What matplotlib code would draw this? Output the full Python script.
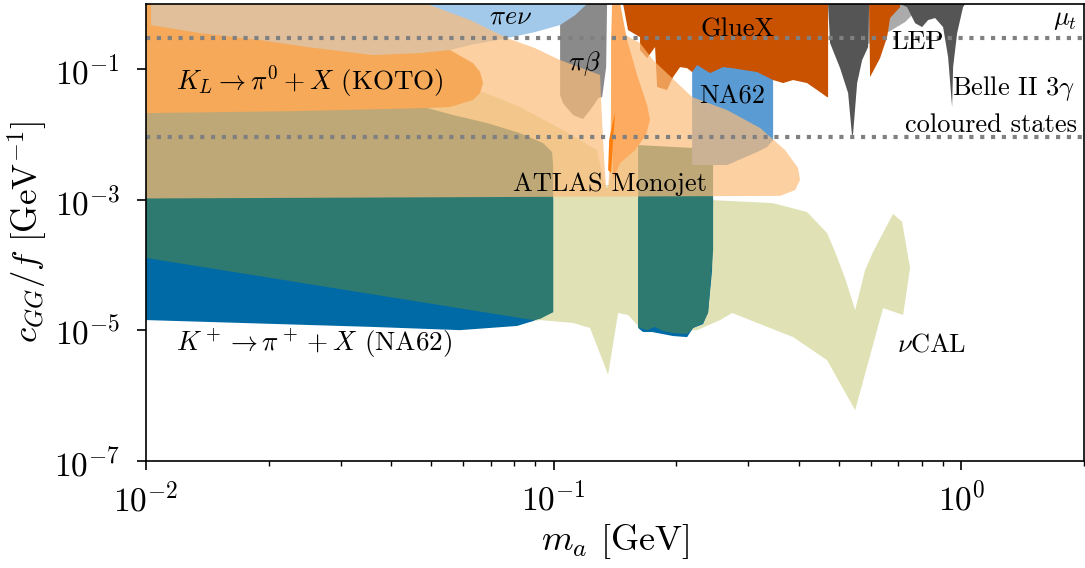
import matplotlib
matplotlib.use("Agg")
import matplotlib.pyplot as plt
from matplotlib.ticker import LogLocator, NullLocator, FixedLocator, LogFormatterSciNotation

plt.rcParams['font.family'] = 'cmr10'
plt.rcParams['mathtext.fontset'] = 'cm'
plt.rcParams['axes.formatter.use_mathtext'] = True
plt.rcParams['font.size'] = 19

# exclusion regions in the (m_a [GeV], c_GG/f [GeV^-1]) plane
nucal_m = [0.0100, 0.0497, 0.0671, 0.0827, 0.1054, 0.1278, 0.1315, 0.1337, 0.1368, 0.1391,
           0.1456, 0.1629, 0.2286, 0.2461, 0.3454, 0.4183, 0.4685, 0.4902, 0.5187, 0.5490,
           0.5808, 0.6075, 0.6802, 0.7158, 0.7486, 0.7199, 0.6428, 0.5490, 0.4685, 0.3867,
           0.2740, 0.2560, 0.2248, 0.1824, 0.1629, 0.1522, 0.1439, 0.1360, 0.1228, 0.1116,
           0.0926, 0.0804]
nucal_g = [0.0481, 0.0481, 0.0448, 0.0264, 0.0117, 0.00579, 0.00240, 0.00169, 0.00169, 0.00407,
           0.00579, 0.00621, 0.00286, 9.9e-4, 8.9e-4, 6.5e-4, 3.1e-4, 1.59e-4, 6.3e-5, 2.05e-5,
           8.4e-5, 1.59e-4, 6.1e-4, 4.6e-4, 9.0e-5, 1.72e-5, 2.2e-5, 6.0e-7, 3.5e-6, 7.9e-6,
           1.85e-5, 1.44e-5, 1.01e-5, 9.1e-6, 1.09e-5, 1.72e-5, 1.85e-5, 2.1e-6, 1.09e-5, 1.30e-5,
           1.44e-5, 1.25e-5]

kp_left_m = [0.0100, 0.0997, 0.0997, 0.0890, 0.0813, 0.0589, 0.0361, 0.0100]
kp_left_g = [1.03e-3, 1.03e-3, 1.91e-5, 1.39e-5, 1.17e-5, 1.01e-5, 1.13e-5, 1.44e-5]
kp_right_m = [0.1611, 0.2461, 0.2447, 0.2392, 0.2325, 0.2198, 0.2125, 0.1963, 0.1743, 0.1657, 0.1611]
kp_right_g = [1.03e-3, 1.03e-3, 8.4e-5, 1.91e-5, 1.25e-5, 1.09e-5, 7.9e-6, 8.2e-6, 9.45e-6, 9.45e-6, 1.09e-5]

teal_left_m = [0.0100, 0.0489, 0.0489, 0.0567, 0.0687, 0.0827, 0.0942, 0.0991, 0.0997, 0.0997,
               0.0926, 0.0890, 0.0100]
teal_left_g = [0.0338, 0.0338, 0.0255, 0.0199, 0.0150, 0.0105, 0.00741, 0.00540, 0.00341, 1.91e-5,
               1.50e-5, 1.44e-5, 1.29e-4]
teal_right_m = [0.1611, 0.2461, 0.2461, 0.2392, 0.2325, 0.2198, 0.2125, 0.1963, 0.1855, 0.1773,
                0.1695, 0.1629, 0.1611]
teal_right_g = [0.0069, 0.0060, 1.7e-4, 1.85e-5, 1.30e-5, 1.09e-5, 8.8e-6, 9.1e-6, 9.8e-6, 1.13e-5,
                1.01e-5, 1.09e-5, 1.09e-5]

koto_m = [0.0100, 0.0375, 0.0470, 0.0557, 0.0634, 0.0660, 0.0671, 0.0660, 0.0634, 0.0557,
          0.0489, 0.0238, 0.0100]
koto_g = [1.0, 1.0, 0.398, 0.197, 0.124, 0.0907, 0.0615, 0.0432, 0.0338, 0.0264,
          0.0255, 0.0229, 0.0213]

pie_m = [0.01029, 0.01029, 0.01357, 0.01904, 0.02483, 0.03605, 0.0470, 0.0557, 0.0624, 0.0769,
         0.0900, 0.1037, 0.1129, 0.1207]
pie_g = [1.0, 0.475, 0.358, 0.280, 0.219, 0.165, 0.177, 0.197, 0.235, 0.300,
         0.371, 0.475, 0.676, 1.0]

pib_m = [0.1037, 0.1352, 0.1345, 0.1315, 0.1285, 0.1264, 0.1228, 0.1180, 0.1116, 0.1054, 0.1037]
pib_g = [1.0, 1.0, 0.108, 0.0375, 0.0362, 0.0303, 0.0237, 0.0173, 0.0199, 0.0303, 0.0403]

na62_m = [0.2186, 0.3454, 0.3454, 0.3339, 0.3155, 0.2663, 0.2186]
na62_g = [0.197, 0.197, 0.00824, 0.00643, 0.00540, 0.00341, 0.00341]

gluex1_m = [0.1480, 0.4712, 0.4712, 0.4685, 0.4428, 0.4183, 0.3867, 0.3654, 0.3454, 0.3339,
            0.3155, 0.2740, 0.2603, 0.2420, 0.2248, 0.2186, 0.2125, 0.2042, 0.1963, 0.1897,
            0.1794, 0.1773, 0.1695, 0.1629, 0.1629, 0.1522]
gluex1_g = [1.0, 1.0, 0.0375, 0.0375, 0.0481, 0.0615, 0.0684, 0.0615, 0.0684, 0.0760,
            0.0906, 0.104, 0.108, 0.0875, 0.116, 0.0906, 0.104, 0.108, 0.0760, 0.0481,
            0.0534, 0.219, 0.148, 0.197, 0.311, 0.398]
gluex2_m = [0.5940, 0.5973, 0.6320, 0.6575, 0.6687, 0.7078, 0.7078]
gluex2_g = [1.0, 0.0760, 0.148, 0.311, 0.609, 0.896, 1.0]

lep_m = [0.5500, 0.5500, 0.5742, 0.7280, 0.7701, 0.7830]
lep_g = [1.0, 0.20, 0.219, 0.528, 0.751, 1.0]

belle1_m = [0.4712, 0.4765, 0.5042, 0.5276, 0.5397, 0.5428, 0.5552, 0.5710, 0.5907, 0.5940]
belle1_g = [1.0, 0.252, 0.104, 0.0432, 0.00916, 0.0105, 0.0615, 0.138, 0.219, 1.0]
belle2_m = [0.7078, 0.7362, 0.7701, 0.8013, 0.8291, 0.8624, 0.9022, 0.9281, 0.9493, 0.9548,
            0.9766, 1.010, 1.022]
belle2_g = [1.0, 0.896, 0.509, 0.443, 0.567, 0.609, 0.443, 0.154, 0.0264, 0.108,
            0.358, 0.896, 1.0]

atlas_m = [0.0100, 0.0489, 0.0624, 0.0769, 0.0900, 0.1037, 0.1300, 0.1307, 0.1330, 0.1345,
           0.1360, 0.1375, 0.1383, 0.1399, 0.1497, 0.1629, 0.1754, 0.2186, 0.2663, 0.3209,
           0.3696, 0.3977, 0.4022, 0.3910, 0.3592, 0.0100]
atlas_g = [1.0, 1.0, 0.567, 0.300, 0.211, 0.138, 0.0815, 0.0338, 0.00407, 0.00152,
           0.00152, 0.00407, 0.0338, 0.235, 0.334, 0.252, 0.138, 0.0375, 0.0237, 0.0126,
           0.00579, 0.00307, 0.00201, 0.00141, 0.00115, 0.00105]

pi0_m = [0.1391, 0.1456, 0.1514, 0.1602, 0.1695, 0.1723, 0.1684, 0.1584, 0.1456, 0.1399,
         0.1383, 0.1383]
pi0_g = [1.0, 1.0, 0.280, 0.0815, 0.0283, 0.0167, 0.00982, 0.00579, 0.00367, 0.00201,
         0.0167, 0.280]
pi0_core_m = [0.1415, 0.1399, 0.1383, 0.1360, 0.1368, 0.1391]
pi0_core_g = [0.0213, 0.00824, 0.00257, 0.00286, 0.00824, 0.0140]

# horizontal reference couplings
mu_t = 0.30
coloured = 0.0092

fig = plt.figure(figsize=(10.85, 5.68), dpi=100)
ax = fig.add_axes([0.1346, 0.1884, 0.8645, 0.8046])
ax.set_xscale('log')
ax.set_yscale('log')

ax.fill(nucal_m, nucal_g, color='#e0e2b5', lw=0, zorder=1)
ax.fill(kp_left_m, kp_left_g, color='#006aa6', lw=0, zorder=2)
ax.fill(kp_right_m, kp_right_g, color='#006aa6', lw=0, zorder=2)
ax.fill(teal_left_m, teal_left_g, color='#2f7a70', lw=0, zorder=3)
ax.fill(teal_right_m, teal_right_g, color='#2f7a70', lw=0, zorder=3)
ax.fill(koto_m, koto_g, color='#e57d0f', lw=0, zorder=4)
ax.fill(pib_m, pib_g, color='#8a8a8a', lw=0, zorder=5)
ax.fill(pie_m, pie_g, color='#a3c9ea', lw=0, zorder=6)
ax.fill(na62_m, na62_g, color='#5b9bd3', lw=0, zorder=7)
ax.fill(gluex1_m, gluex1_g, color='#c85200', lw=0, zorder=8)
ax.fill(atlas_m, atlas_g, color='#fcbc7a', alpha=0.7, lw=0, zorder=9)
ax.fill(pi0_m, pi0_g, color='#fcab60', lw=0, zorder=10)
ax.fill(pi0_core_m, pi0_core_g, color='#ff7f0e', lw=0, zorder=11)
ax.fill(lep_m, lep_g, color='#ababab', lw=0, zorder=12)
ax.fill(gluex2_m, gluex2_g, color='#c85200', lw=0, zorder=13)
ax.fill(belle1_m, belle1_g, color='#555555', lw=0, zorder=14)
ax.fill(belle2_m, belle2_g, color='#555555', lw=0, zorder=14)

for yv in (mu_t, coloured):
    ax.axhline(yv, color='#808080', lw=3, ls=(0, (1, 1.6)), zorder=15)

txt = dict(zorder=16, va='center')
ax.text(0.0782, 0.63, r'$\pi e \nu$', ha='center', **txt)
ax.text(0.119, 0.124, r'$\pi\beta$', ha='center', **txt)
ax.text(0.282, 0.40, 'GlueX', ha='center', **txt)
ax.text(0.274, 0.0375, 'NA62', ha='center', **txt)
ax.text(0.78, 0.26, 'LEP', ha='center', **txt)
ax.text(1.92, 0.57, r'$\mu_t$', ha='right', **txt)
ax.text(1.90, 0.0515, r'Belle II $3\gamma$', ha='right', **txt)
ax.text(1.92, 0.014, 'coloured states', ha='right', **txt)
ax.text(0.01185, 0.0637, r'$K_L \rightarrow \pi^0 + X$ (KOTO)', ha='left', fontsize=19.5, **txt)
ax.text(0.1374, 0.00175, 'ATLAS Monojet', ha='center', **txt)
ax.text(0.01185, 6.2e-6, r'$K^+ \rightarrow \pi^+ + X$ (NA62)', ha='left', fontsize=19.5, **txt)
ax.text(0.696, 6.0e-6, r'$\nu$CAL', ha='left', **txt)

ax.set_xlim(0.01, 2)
ax.set_ylim(1e-7, 1)
ax.xaxis.set_major_locator(LogLocator(base=10))
ax.xaxis.set_minor_locator(LogLocator(base=10, subs=range(2, 10)))
ax.xaxis.set_major_formatter(LogFormatterSciNotation())
ax.yaxis.set_major_locator(FixedLocator([1e-7, 1e-5, 1e-3, 1e-1]))
ax.yaxis.set_minor_locator(NullLocator())
ax.yaxis.set_major_formatter(LogFormatterSciNotation())
ax.tick_params(which='major', direction='out', length=6.5, width=1.2, labelsize=24)
ax.tick_params(which='minor', direction='out', length=3.5, width=1)
ax.tick_params(axis='y', pad=12)
ax.tick_params(axis='x', pad=8)
for s in ax.spines.values():
    s.set_linewidth(1.2)
    s.set_zorder(20)

ax.set_xlabel(r'$m_a$ [GeV]', fontsize=26, labelpad=4)
ax.set_ylabel(r'$c_{GG}/f$ [GeV$^{-1}$]', fontsize=25, labelpad=4)

fig.savefig('out.png', dpi=100)
